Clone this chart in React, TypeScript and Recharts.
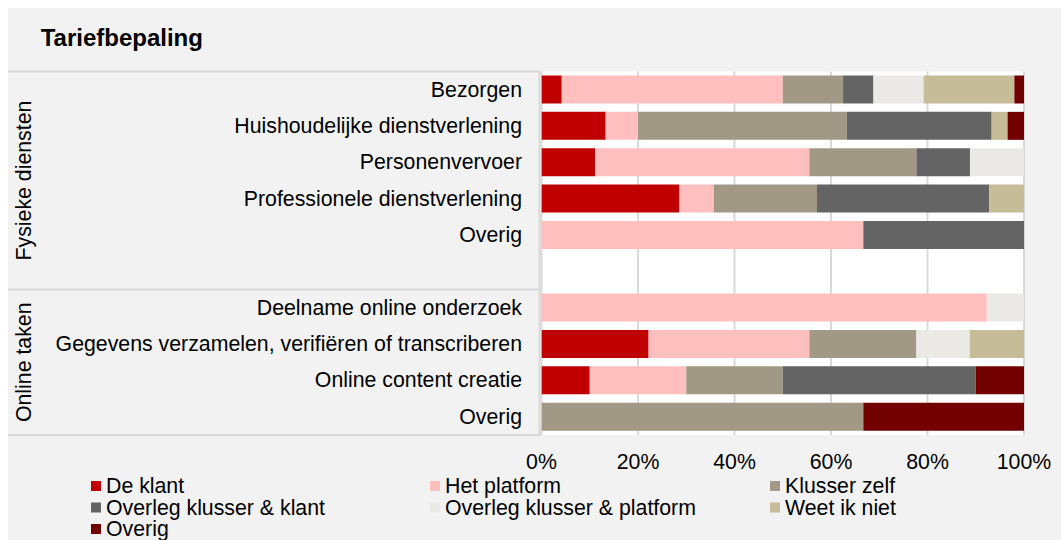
import React from "react";
import { BarChart, Bar, XAxis, YAxis, CartesianGrid } from "recharts";

const title = "Tariefbepaling";

const categories = [
  "Bezorgen",
  "Huishoudelijke dienstverlening",
  "Personenvervoer",
  "Professionele dienstverlening",
  "Overig",
  "",
  "Deelname online onderzoek",
  "Gegevens verzamelen, verifiëren of transcriberen",
  "Online content creatie",
  "Overig",
];

const groupLabels = ["Fysieke diensten", "Online taken"];
const groupSizes = [6, 4];

const deKlant = [4.2, 13.3, 11.1, 28.6, 0, null, 0, 22.2, 10, 0];
const hetPlatform = [45.8, 6.7, 44.4, 7.1, 66.7, null, 92.3, 33.3, 20, 0];
const klusserZelf = [12.5, 43.3, 22.2, 21.4, 0, null, 0, 22.2, 20, 66.7];
const overlegKlant = [6.3, 30, 11.1, 35.7, 33.3, null, 0, 0, 40, 0];
const overlegPlatform = [10.4, 0, 11.2, 0, 0, null, 7.7, 11.1, 0, 0];
const weetNiet = [18.8, 3.3, 0, 7.2, 0, null, 0, 11.2, 0, 0];
const overig = [2.0, 3.4, 0, 0, 0, null, 0, 0, 10, 33.3];

const xTicks = [0, 20, 40, 60, 80, 100];

const series = [
  { key: "deKlant", name: "De klant", color: "#c00000", values: deKlant },
  { key: "hetPlatform", name: "Het platform", color: "#ffbfbf", values: hetPlatform },
  { key: "klusserZelf", name: "Klusser zelf", color: "#a19985", values: klusserZelf },
  { key: "overlegKlant", name: "Overleg klusser & klant", color: "#646464", values: overlegKlant },
  { key: "overlegPlatform", name: "Overleg klusser & platform", color: "#eae9e5", values: overlegPlatform },
  { key: "weetNiet", name: "Weet ik niet", color: "#c6bc97", values: weetNiet },
  { key: "overig", name: "Overig", color: "#730000", values: overig },
];

const data = categories.map((c, i) => {
  const row: any = { id: String(i) };
  series.forEach((s) => {
    row[s.key] = s.values[i];
  });
  return row;
});

const W = 1053;
const H = 532;
const PLOT_TOP = 63.5;
const PLOT_BOTTOM = 427;
const PLOT_LEFT = 533.5;
const PLOT_RIGHT = 1016;
const XAXIS_H = 30;
const BAND = (PLOT_BOTTOM - PLOT_TOP) / categories.length;
const FONT = '"Liberation Sans", Arial, Helvetica, sans-serif';
const LINE = "#d9d9d9";
const FS = 21.3;

const CatTick = (props: any) => {
  const { x, y, payload } = props;
  const label = categories[Number(payload.value)];
  return (
    <text x={x} y={y} textAnchor="end" dominantBaseline="central" fontSize={FS} fill="#000" fontFamily={FONT}>
      {label}
    </text>
  );
};

const legendCols = [83, 422, 762];
const legendRows = [478, 499.5, 521];

export default function App() {
  let acc = 0;
  const groupBounds = groupSizes.map((n) => {
    const start = acc;
    acc += n;
    return [PLOT_TOP + start * BAND, PLOT_TOP + acc * BAND];
  });

  return (
    <div
      style={{
        position: "fixed",
        left: 8,
        top: 8,
        width: W,
        height: H,
        background: "#f2f2f2",
        overflow: "hidden",
        fontFamily: FONT,
      }}
    >
      <svg width={W} height={H} style={{ position: "absolute", left: 0, top: 0 }}>
        <text x={32.7} y={37.5} fontSize={24} fontWeight="bold" fill="#000" fontFamily={FONT}>
          {title}
        </text>
        {[PLOT_TOP, ...groupBounds.map((g) => g[1])].map((y, i) => (
          <line key={i} x1={0} x2={PLOT_LEFT - 1} y1={y} y2={y} stroke={LINE} strokeWidth={2} />
        ))}
        <line x1={PLOT_LEFT - 2} x2={PLOT_LEFT - 2} y1={PLOT_TOP} y2={PLOT_BOTTOM} stroke={LINE} strokeWidth={2} />
        {groupLabels.map((g, i) => {
          const cy = (groupBounds[i][0] + groupBounds[i][1]) / 2;
          const cx = 16;
          return (
            <text
              key={g}
              x={cx}
              y={cy}
              transform={`rotate(-90, ${cx}, ${cy})`}
              textAnchor="middle"
              dominantBaseline="central"
              fontSize={FS}
              fill="#000"
              fontFamily={FONT}
            >
              {g}
            </text>
          );
        })}
        {series.map((s, i) => {
          const col = legendCols[i % 3];
          const row = legendRows[Math.floor(i / 3)];
          return (
            <g key={s.key}>
              <rect x={col} y={row - 5} width={10} height={10} fill={s.color} />
              <text x={col + 15} y={row} dominantBaseline="central" fontSize={FS} fill="#000" fontFamily={FONT}>
                {s.name}
              </text>
            </g>
          );
        })}
      </svg>
      <div style={{ position: "absolute", left: 0, top: 0 }}>
        <BarChart
          width={W}
          height={H}
          data={data}
          layout="vertical"
          barSize={28}
          margin={{ top: PLOT_TOP, right: W - PLOT_RIGHT, bottom: H - PLOT_BOTTOM - XAXIS_H, left: 0 }}
        >
          <CartesianGrid horizontal={false} vertical stroke={LINE} strokeWidth={2} fill="#ffffff" fillOpacity={1} />
          <XAxis
            type="number"
            domain={[0, 100]}
            ticks={xTicks}
            allowDataOverflow
            height={XAXIS_H}
            axisLine={false}
            tickLine={false}
            tickSize={0}
            tickMargin={18.5}
            tickFormatter={(v: number) => `${v}%`}
            tick={{ fontSize: FS, fill: "#000", fontFamily: FONT }}
          />
          <YAxis
            type="category"
            dataKey="id"
            width={PLOT_LEFT}
            axisLine={false}
            tickLine={false}
            tickSize={0}
            tickMargin={19.5}
            interval={0}
            tick={CatTick}
          />
          {series.map((s) => (
            <Bar key={s.key} dataKey={s.key} name={s.name} stackId="s" fill={s.color} isAnimationActive={false} />
          ))}
        </BarChart>
      </div>
    </div>
  );
}
